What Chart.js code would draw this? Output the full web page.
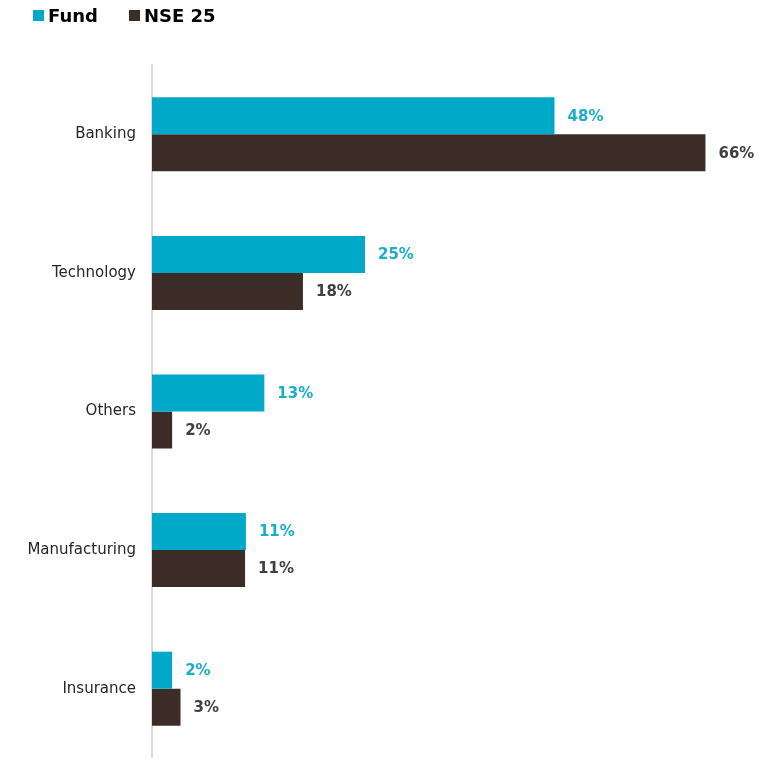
<!DOCTYPE html>
<html>
<head>
<meta charset="utf-8">
<script src="https://cdn.jsdelivr.net/npm/chart.js@4.4.1/dist/chart.umd.min.js"></script>
<style>
  body { margin: 0; background: #ffffff; }
  #wrap { width: 768px; height: 758px; }
</style>
</head>
<body>
<div id="wrap"><canvas id="myChart" width="768" height="758"></canvas></div>
<script>
const sectors = ['Banking', 'Technology', 'Others', 'Manufacturing', 'Insurance'];
const fundValues = [48, 25.4, 13.4, 11.2, 2.4];
const nseValues = [66, 18, 2.4, 11.1, 3.4];
const seriesNames = ['Fund', 'NSE 25'];

const fundColor = '#00A9C7';
const nseColor = '#3C2C28';
const fontFamily = '"DejaVu Sans", "Open Sans", sans-serif';

// value labels at the end of each bar
const barLabels = {
    id: 'barLabels',
    afterDatasetsDraw(chart) {
        const ctx = chart.ctx;
        ctx.save();
        ctx.font = 'bold 15px ' + fontFamily;
        ctx.textBaseline = 'middle';
        ctx.textAlign = 'left';
        chart.data.datasets.forEach((ds, i) => {
            const meta = chart.getDatasetMeta(i);
            ctx.fillStyle = i === 0 ? '#1AAEC9' : '#404040';
            meta.data.forEach((bar, j) => {
                ctx.fillText(Math.round(ds.data[j]) + '%', bar.x + 13, bar.y + 1);
            });
        });
        ctx.restore();
    }
};

// legend drawn in the top left corner
const topLegend = {
    id: 'topLegend',
    afterDraw(chart) {
        const ctx = chart.ctx;
        const xs = [33, 129];
        ctx.save();
        ctx.font = 'bold 18px ' + fontFamily;
        ctx.textBaseline = 'middle';
        ctx.textAlign = 'left';
        chart.data.datasets.forEach((ds, i) => {
            ctx.fillStyle = ds.backgroundColor;
            ctx.fillRect(xs[i], 10, 11, 11);
            ctx.fillStyle = '#000000';
            ctx.fillText(ds.label, xs[i] + 15, 17);
        });
        ctx.restore();
    }
};

const ctx = document.getElementById('myChart').getContext('2d');
const myChart = new Chart(ctx, {
    type: 'bar',
    data: {
        labels: sectors,
        datasets: [{
            label: seriesNames[0],
            data: fundValues,
            backgroundColor: fundColor,
            borderWidth: 0
        }, {
            label: seriesNames[1],
            data: nseValues,
            backgroundColor: nseColor,
            borderWidth: 0
        }]
    },
    options: {
        responsive: false,
        animation: false,
        devicePixelRatio: 1,
        indexAxis: 'y',
        categoryPercentage: 0.534,
        barPercentage: 1,
        layout: {
            autoPadding: false,
            padding: { top: 65, right: 29, bottom: 0, left: 0 }
        },
        scales: {
            x: {
                display: false,
                min: 0,
                max: 70
            },
            y: {
                afterFit(scale) {
                    scale.width = 152;
                    scale.paddingTop = 0;
                    scale.paddingBottom = 0;
                },
                grid: {
                    display: false,
                    drawTicks: false
                },
                border: {
                    display: true,
                    color: '#D9D9D9',
                    width: 2
                },
                ticks: {
                    padding: 16,
                    color: '#262626',
                    font: { family: fontFamily, size: 15 }
                }
            }
        },
        plugins: {
            legend: { display: false },
            tooltip: { enabled: false }
        }
    },
    plugins: [barLabels, topLegend]
});
</script>
</body>
</html>
